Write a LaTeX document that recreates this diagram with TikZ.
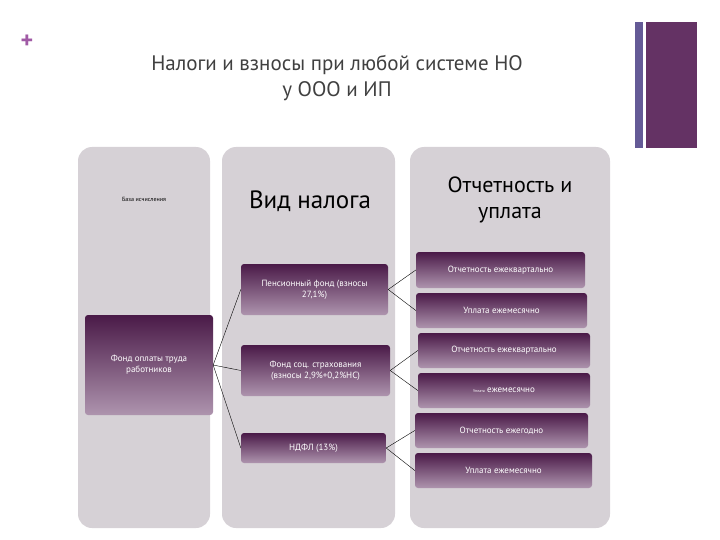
\documentclass[tikz,border=0pt]{standalone}
\usepackage{fontspec}
\setmainfont{PT Sans}
\begin{document}
\begin{tikzpicture}[x=1pt,y=-1pt,
 col/.style={fill=colbg,rounded corners=14pt},
 pbox/.style={rounded corners=3pt,top color=pdark,bottom color=plight,text=white,align=center,font=\fontsize{9}{11}\selectfont,inner sep=0pt},
 lnk/.style={draw=black,line width=0.4pt}]
\definecolor{colbg}{HTML}{D6D1D6}
\definecolor{pdark}{HTML}{4A1A48}
\definecolor{plight}{HTML}{AE94AE}
\definecolor{barA}{RGB}{100,90,150}
\definecolor{barB}{RGB}{100,50,100}
\definecolor{plusc}{RGB}{160,90,165}
\useasboundingbox (0,0) rectangle (720,540);
\node[text=plusc,font=\fontsize{24}{24}\selectfont\bfseries] (plus) at (27,42) {+};
\node[font=\fontsize{21}{26}\selectfont,text=black!75,align=center] (title) at (337,78) {Налоги и взносы при любой системе НО\\у ООО и ИП};
\fill[barA] (635,22) rectangle (643,148);
\fill[barB] (646,22) rectangle (697,148);
\path[col] (78,147) rectangle (210,528);
\path[col] (222,147) rectangle (395,528);
\path[col] (410,147) rectangle (610,528);
\node[font=\fontsize{6}{6}\selectfont] (h1) at (144,199) {База исчисления};
\node[font=\fontsize{25}{28}\selectfont] (h2) at (310,201) {Вид налога};
\node[font=\fontsize{22}{26}\selectfont,align=center] (h3) at (510,200) {Отчетность и\\уплата};
\node[pbox,minimum width=128pt,minimum height=100pt] (fot) at (149,365) {Фонд оплаты труда\\работников};
\node[pbox,minimum width=147pt,minimum height=51pt] (pf) at (314.5,289.5) {Пенсионный фонд (взносы\\27,1\%)};
\node[pbox,minimum width=149pt,minimum height=51pt] (fss) at (315.5,370.5) {Фонд соц. страхования\\(взносы 2,9\%+0,2\%НС)};
\node[pbox,minimum width=145pt,minimum height=30pt] (ndfl) at (313.5,448) {НДФЛ (13\%)};
\node[pbox,minimum width=169pt,minimum height=36pt] (r1) at (500.5,270) {Отчетность ежеквартально};
\node[pbox,minimum width=171pt,minimum height=35pt] (r2) at (501.5,310.5) {Уплата ежемесячно};
\node[pbox,minimum width=172pt,minimum height=35pt] (r3) at (504,350.5) {Отчетность ежеквартально};
\node[pbox,minimum width=172pt,minimum height=35pt] (r4) at (504,390.5) {{\fontsize{4}{4}\selectfont Уплата} ежемесячно};
\node[pbox,minimum width=173pt,minimum height=35pt] (r5) at (501.5,430.5) {Отчетность ежегодно};
\node[pbox,minimum width=177pt,minimum height=35pt] (r6) at (503.5,470.5) {Уплата ежемесячно};
\draw[lnk] (fot.east) -- (pf.west);
\draw[lnk] (fot.east) -- (fss.west);
\draw[lnk] (fot.east) -- (ndfl.west);
\draw[lnk] (pf.east) -- (r1.west); \draw[lnk] (pf.east) -- (r2.west);
\draw[lnk] (fss.east) -- (r3.west); \draw[lnk] (fss.east) -- (r4.west);
\draw[lnk] (ndfl.east) -- (r5.west); \draw[lnk] (ndfl.east) -- (r6.west);
\end{tikzpicture}
\end{document}
